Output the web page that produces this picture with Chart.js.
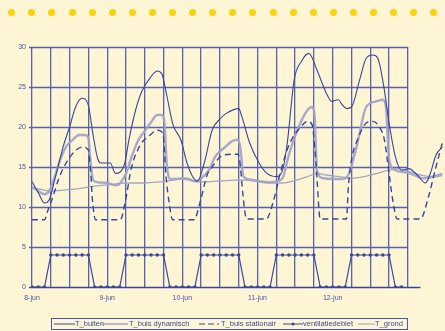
<!DOCTYPE html>
<html>
<head>
<meta charset="utf-8">
<script src="https://cdn.jsdelivr.net/npm/chart.js@4/dist/chart.umd.min.js"></script>
<style>
  html, body { margin: 0; padding: 0; background: #fdf5d3; }
  #wrap { position: relative; width: 445px; height: 331px; overflow: hidden; background: #fdf5d3; }
  #chart { position: absolute; left: 0; top: 0; }
  .dot { position: absolute; width: 7px; height: 7px; border-radius: 50%; background: #fbd20c; }
  #legend { position: absolute; left: 51px; top: 318px; width: 355px; height: 10px;
            border: 1px solid #4a56a8; font: 7.5px "Liberation Sans", Arial, sans-serif; color: #3f4b9e; }
  #legend span { position: absolute; top: 0; line-height: 10px; white-space: nowrap; }
  #legend svg { position: absolute; top: 0; }
</style>
</head>
<body>
<div id="wrap">
  <canvas id="chart" width="470" height="331"></canvas>
  <div id="legend">
    <svg style="left:2px" width="21" height="10"><line x1="0" y1="5" x2="21" y2="5" stroke="#3a469c" stroke-width="1"/></svg>
    <span style="left:23px">T_buiten</span>
    <svg style="left:49px" width="27" height="10"><line x1="0" y1="5" x2="27" y2="5" stroke="#a7a8cc" stroke-width="1.6"/></svg>
    <span style="left:77px">T_buis dynamisch</span>
    <svg style="left:147px" width="20" height="10"><line x1="0" y1="5" x2="20" y2="5" stroke="#3a469c" stroke-width="1.2" stroke-dasharray="6 3"/></svg>
    <span style="left:169px">T_buis stationair</span>
    <svg style="left:231px" width="20" height="10"><line x1="0" y1="5" x2="20" y2="5" stroke="#3a469c" stroke-width="1"/><circle cx="10" cy="5" r="1.6" fill="#3a469c"/></svg>
    <span style="left:251px">ventilatiedebiet</span>
    <svg style="left:306px" width="17" height="10"><line x1="0" y1="5" x2="17" y2="5" stroke="#9fa1c6" stroke-width="1"/></svg>
    <span style="left:323px">T_grond</span>
  </div>
</div>
<script>
// time axis in hours from 8-jun 00:00
const dayLabels = ['8-jun', '9-jun', '10-jun', '11-jun', '12-jun'];
const yTicks = [0, 5, 10, 15, 20, 25, 30];

const tBuitenHours = [0, 2, 4, 5.5, 7, 8.3, 10, 12, 14, 16, 18, 19.5, 21, 22, 25, 26.6, 29.5, 31, 33, 35, 38, 40, 41.5, 43, 45, 47.5, 49.5, 51, 52.8, 55, 57.5, 60, 62, 66, 67, 69.5, 72.5, 75, 78, 80, 81.5, 83.7, 86, 88.4, 91, 94, 95.7, 97.8, 99, 100.4, 102, 104.6, 106.7, 108.8, 110.4, 112.5, 114, 116, 118, 120.3, 123, 125.6, 127, 129, 131];
const tBuitenValues = [13.2, 11.8, 10.5, 10.9, 13, 15, 17.6, 20, 22.6, 23.6, 22.7, 19, 16, 15.5, 15.5, 14.2, 15.3, 18.5, 22, 24.4, 26.3, 27, 26.6, 24, 20.3, 18.4, 15.5, 14, 13.2, 15.5, 19.6, 21, 21.7, 22.3, 21.3, 18, 15.5, 14.2, 13.8, 14.6, 18, 25.9, 28.2, 29.2, 27.1, 24.2, 23.2, 23.4, 22.8, 22.3, 22.5, 25.9, 28.6, 29, 28.6, 24.6, 20.5, 16.3, 14.6, 14.8, 14, 13, 14, 16.5, 17.5];

const dynHours = [0, 2, 4, 5.5, 7, 9, 11, 13, 15, 17, 18, 18.7, 19.5, 21, 24, 27, 30, 32, 34, 36, 38, 40, 41.5, 42.3, 43, 44, 46, 48, 50, 52, 54, 56.5, 58.5, 61.7, 63.8, 65.5, 66.5, 67.5, 70, 73, 76, 78, 80, 82, 84.7, 87.9, 89.4, 90.2, 91, 93, 96, 99, 101, 103.6, 106.7, 109.9, 112, 113, 114, 116, 120, 125, 131];
const dynValues = [12.5, 12, 11.6, 12, 13.5, 15.9, 17.6, 18.4, 19, 19, 18.6, 15.5, 13.4, 13.1, 13, 12.7, 14.2, 16.5, 18.4, 19.5, 20.6, 21.5, 21.5, 20.5, 15.5, 13.5, 13.5, 13.6, 13.5, 13.2, 13.6, 14.6, 16.3, 17.5, 18.2, 18.4, 17.5, 13.8, 13.4, 13.2, 13.1, 13.2, 13.6, 16.5, 19.6, 22.1, 22.5, 21.5, 14.5, 13.6, 13.5, 13.5, 14, 17.5, 22.5, 23.2, 23.4, 22.5, 16, 14.6, 14.3, 13.6, 14];

const statHours = [0, 4, 5, 6.7, 8.5, 10.9, 14, 16.1, 18, 18.7, 19.3, 20.3, 28.2, 29.7, 31.8, 35, 37.1, 40.2, 41.8, 42.8, 43.8, 44.9, 51.7, 53.8, 55.9, 57.5, 60.6, 63.8, 65.8, 66.4, 67.4, 68.5, 74.8, 76.9, 79.5, 82.1, 85.8, 87.9, 89.4, 90.5, 91, 92, 100.4, 101, 102, 104, 106.7, 108.8, 110.9, 112.5, 114, 115, 116.6, 124, 126.6, 128.7, 131];
const statValues = [8.4, 8.4, 9.5, 11.3, 13.5, 15.5, 17.1, 17.5, 17.1, 14.6, 10.9, 8.4, 8.4, 10.5, 15, 18, 18.8, 19.6, 19.2, 13.8, 10.5, 8.4, 8.4, 10.8, 14, 15, 16.4, 16.6, 16.6, 15.5, 11.3, 8.5, 8.5, 10.5, 14.6, 17.8, 20, 20.7, 20.3, 16.3, 13.4, 8.5, 8.5, 12.5, 15.9, 18.5, 20.5, 20.7, 20, 18.4, 14.2, 11.3, 8.5, 8.5, 11.3, 14.6, 18];

const ventHours = [0, 2, 4, 6, 8, 10, 12, 14, 16, 18, 20, 22,
  24, 26, 28, 30, 32, 34, 36, 38, 40, 42, 44, 46,
  48, 50, 52, 54, 56, 58, 60, 62, 64, 66, 68, 70,
  72, 74, 76, 78, 80, 82, 84, 86, 88, 90, 92, 94,
  96, 98, 100, 102, 104, 106, 108, 110, 112, 114, 116, 118];
const ventValues = [0, 0, 0, 4, 4, 4, 4, 4, 4, 4, 0, 0,
  0, 0, 0, 4, 4, 4, 4, 4, 4, 4, 0, 0,
  0, 0, 0, 4, 4, 4, 4, 4, 4, 4, 0, 0,
  0, 0, 0, 4, 4, 4, 4, 4, 4, 4, 0, 0,
  0, 0, 0, 4, 4, 4, 4, 4, 4, 4, 0, 0];

const grondHours = [0, 3, 6, 10, 15, 20, 25, 30, 35, 40, 44, 48, 50, 54, 58, 62, 66, 70, 75, 80, 84, 88, 91, 94, 98, 102, 106, 110, 114, 117, 120, 124, 127, 131];
const grondValues = [12.4, 12.2, 12.0, 12.1, 12.3, 12.6, 12.8, 13.0, 13.0, 13.1, 13.3, 13.5, 13.4, 13.1, 13.2, 13.3, 13.4, 13.3, 13.0, 13.0, 13.3, 13.8, 14.2, 14.0, 13.8, 13.6, 13.8, 14.2, 14.6, 14.8, 14.5, 14.0, 13.8, 14.2];

const dark = '#3a469c';
const gridColor = '#5662ae';
const lightDyn = 'rgba(160, 161, 202, 0.9)';
const lightGrond = '#a3a5c8';
const labelFont = { family: 'Liberation Sans', size: 7 };

function pts(hours, values) {
  return hours.map((h, i) => ({ x: h, y: values[i] }));
}

// horizontal grid, stops at 13-jun like the original
const hGrid = {
  id: 'hGrid',
  beforeDatasetsDraw(chart) {
    const { ctx, scales: { x, y } } = chart;
    ctx.save();
    yTicks.forEach(v => {
      const py = Math.round(y.getPixelForValue(v)) + 0.5;
      ctx.beginPath();
      ctx.strokeStyle = v === 0 ? dark : gridColor;
      ctx.lineWidth = 1.3;
      ctx.moveTo(x.getPixelForValue(0) - 3, py);
      ctx.lineTo(x.getPixelForValue(v === 0 ? 124 : 120), py);
      ctx.stroke();
    });
    ctx.restore();
  }
};

new Chart(document.getElementById('chart').getContext('2d'), {
  type: 'line',
  data: {
    datasets: [
      { label: 'ventilatiedebiet', data: pts(ventHours, ventValues), borderColor: dark, backgroundColor: dark,
        borderWidth: 1.2, pointRadius: 1.7, pointBackgroundColor: dark, pointBorderWidth: 0, tension: 0 },
      { label: 'T_buis stationair', data: pts(statHours, statValues), borderColor: dark, borderWidth: 1.4,
        borderDash: [6, 4], pointRadius: 0, cubicInterpolationMode: 'monotone' },
      { label: 'T_buiten', data: pts(tBuitenHours, tBuitenValues), borderColor: dark, borderWidth: 1.1,
        pointRadius: 0, cubicInterpolationMode: 'monotone' },
      { label: 'T_buis dynamisch', data: pts(dynHours, dynValues), borderColor: lightDyn, borderWidth: 2.4,
        pointRadius: 0, cubicInterpolationMode: 'monotone' },
      { label: 'T_grond', data: pts(grondHours, grondValues), borderColor: lightGrond, borderWidth: 1.3,
        pointRadius: 0, cubicInterpolationMode: 'monotone' }
    ]
  },
  options: {
    responsive: false,
    animation: false,
    layout: { padding: { top: 47, left: 0, right: 0, bottom: 0 } },
    plugins: { legend: { display: false }, tooltip: { enabled: false } },
    scales: {
      x: {
        type: 'linear',
        min: 0,
        max: 137.6,
        afterFit: s => { s.height = 44; },
        border: { display: false },
        grid: {
          drawTicks: false,
          lineWidth: 1.3,
          color: c => (c.tick && c.tick.value <= 120 ? gridColor : 'rgba(0,0,0,0)')
        },
        ticks: {
          stepSize: 6,
          autoSkip: false,
          maxRotation: 0,
          padding: 7,
          color: '#4a56a8',
          font: labelFont,
          callback: v => (v % 24 === 0 && v / 24 < dayLabels.length ? dayLabels[v / 24] : '')
        }
      },
      y: {
        min: 0,
        max: 30,
        afterFit: s => { s.width = 32; },
        border: { display: false },
        grid: { display: false, drawTicks: false },
        ticks: { stepSize: 5, padding: 6, color: '#4a56a8', font: labelFont }
      }
    }
  },
  plugins: [hGrid]
});

// yellow dotted band along the top
const wrap = document.getElementById('wrap');
for (let i = 0; i < 22; i++) {
  const d = document.createElement('div');
  d.className = 'dot';
  d.style.left = (8.2 + i * 20.1) + 'px';
  d.style.top = '8.8px';
  wrap.appendChild(d);
}
</script>
</body>
</html>
